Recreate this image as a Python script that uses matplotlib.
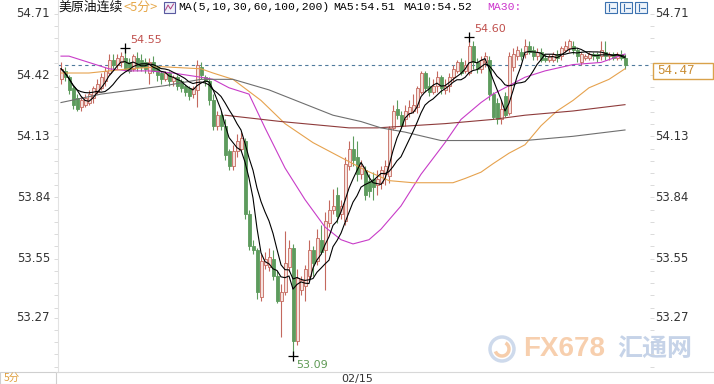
import matplotlib
matplotlib.use('Agg')
import matplotlib.pyplot as plt
from matplotlib.patches import Rectangle, Circle, Arc
from matplotlib.lines import Line2D
from matplotlib.transforms import IdentityTransform, blended_transform_factory
import pandas as pd

W, H = 714, 384

# 5-minute candles, crude oil continuous
opens = [
    54.40, 54.44, 54.41, 54.36, 54.31, 54.27, 54.28, 54.29, 54.31, 54.34,
    54.36, 54.39, 54.43, 54.49, 54.47, 54.48, 54.50, 54.48, 54.45, 54.50,
    54.49, 54.48, 54.43, 54.48, 54.46, 54.43, 54.40, 54.43, 54.39, 54.41,
    54.39, 54.37, 54.36, 54.33, 54.35, 54.46, 54.41, 54.39, 54.30, 54.18,
    54.23, 54.18, 54.06, 53.99, 54.06, 54.07, 54.11, 53.76, 53.61, 53.59,
    53.37, 53.52, 53.51, 53.55, 53.47, 53.35, 53.39, 53.51, 53.60, 53.16,
    53.40, 53.42, 53.47, 53.59, 53.54, 53.64, 53.59, 53.72, 53.78, 53.85,
    53.76, 53.73, 53.99, 54.07, 54.03, 53.95, 53.97, 53.92, 53.93, 53.90,
    53.91, 53.95, 53.94, 54.17, 54.26, 54.23, 54.21, 54.24, 54.25, 54.27,
    54.34, 54.43, 54.37, 54.34, 54.37, 54.41, 54.35, 54.37, 54.41, 54.44,
    54.48, 54.44, 54.43, 54.56, 54.48, 54.45, 54.48, 54.49, 54.33, 54.29,
    54.21, 54.32, 54.24, 54.46, 54.51, 54.53, 54.52, 54.56, 54.54, 54.51,
    54.53, 54.50, 54.49, 54.49, 54.52, 54.51, 54.54, 54.55, 54.56, 54.54,
    54.48, 54.50, 54.50, 54.52, 54.52, 54.51, 54.53, 54.51, 54.52, 54.50,
    54.52, 54.50,
]
closes = [
    54.45, 54.41, 54.35, 54.28, 54.26, 54.30, 54.31, 54.33, 54.36, 54.38,
    54.41, 54.44, 54.49, 54.47, 54.50, 54.51, 54.45, 54.44, 54.51, 54.46,
    54.46, 54.45, 54.48, 54.44, 54.42, 54.40, 54.43, 54.39, 54.41, 54.37,
    54.36, 54.34, 54.32, 54.36, 54.47, 54.42, 54.39, 54.30, 54.18, 54.23,
    54.18, 54.04, 53.99, 54.06, 54.11, 54.12, 53.76, 53.61, 53.59, 53.39,
    53.54, 53.55, 53.56, 53.47, 53.35, 53.39, 53.53, 53.60, 53.16, 53.46,
    53.45, 53.50, 53.59, 53.53, 53.65, 53.58, 53.73, 53.78, 53.80, 53.75,
    53.80, 54.00, 54.07, 54.02, 53.95, 53.99, 53.85, 53.87, 53.89, 53.93,
    53.97, 53.99, 54.17, 54.25, 54.23, 54.18, 54.25, 54.27, 54.28, 54.36,
    54.43, 54.36, 54.34, 54.37, 54.41, 54.36, 54.37, 54.41, 54.45, 54.48,
    54.43, 54.47, 54.56, 54.48, 54.45, 54.49, 54.51, 54.33, 54.22, 54.21,
    54.26, 54.23, 54.51, 54.52, 54.54, 54.51, 54.56, 54.53, 54.51, 54.53,
    54.49, 54.49, 54.51, 54.52, 54.50, 54.55, 54.56, 54.58, 54.54, 54.51,
    54.52, 54.51, 54.52, 54.51, 54.50, 54.54, 54.51, 54.52, 54.50, 54.52,
    54.50, 54.47,
]
highs = [
    54.48, 54.46, 54.42, 54.37, 54.33, 54.32, 54.33, 54.35, 54.37, 54.40,
    54.43, 54.46, 54.52, 54.52, 54.52, 54.53, 54.55, 54.50, 54.52, 54.53,
    54.52, 54.50, 54.50, 54.51, 54.47, 54.44, 54.44, 54.44, 54.42, 54.42,
    54.40, 54.38, 54.37, 54.37, 54.49, 54.48, 54.42, 54.41, 54.33, 54.25,
    54.25, 54.21, 54.07, 54.09, 54.14, 54.15, 54.12, 53.78, 53.64, 53.60,
    53.57, 53.58, 53.60, 53.59, 53.49, 53.43, 53.68, 53.64, 53.62, 53.50,
    53.47, 53.52, 53.64, 53.61, 53.69, 53.71, 53.77, 53.83, 53.88, 53.89,
    53.83, 54.03, 54.11, 54.13, 54.11, 54.02, 53.99, 53.95, 53.96, 53.97,
    53.99, 54.02, 54.18, 54.28, 54.30, 54.25, 54.28, 54.30, 54.33, 54.37,
    54.44, 54.44, 54.41, 54.40, 54.44, 54.42, 54.40, 54.43, 54.47, 54.49,
    54.50, 54.49, 54.60, 54.58, 54.50, 54.51, 54.53, 54.51, 54.34, 54.31,
    54.30, 54.34, 54.53, 54.55, 54.56, 54.55, 54.59, 54.58, 54.56, 54.55,
    54.55, 54.52, 54.52, 54.53, 54.54, 54.56, 54.58, 54.59, 54.58, 54.55,
    54.53, 54.52, 54.53, 54.53, 54.53, 54.58, 54.58, 54.53, 54.53, 54.53,
    54.54, 54.52,
]
lows = [
    54.38, 54.39, 54.33, 54.26, 54.25, 54.25, 54.27, 54.28, 54.29, 54.33,
    54.35, 54.37, 54.42, 54.45, 54.45, 54.46, 54.44, 54.43, 54.44, 54.44,
    54.44, 54.43, 54.38, 54.43, 54.39, 54.38, 54.39, 54.37, 54.37, 54.35,
    54.34, 54.32, 54.30, 54.31, 54.27, 54.40, 54.37, 54.28, 54.16, 54.16,
    54.16, 54.02, 53.97, 53.97, 54.03, 54.06, 53.74, 53.59, 53.57, 53.36,
    53.35, 53.50, 53.49, 53.45, 53.34, 53.18, 53.38, 53.49, 53.09, 53.14,
    53.38, 53.35, 53.45, 53.47, 53.52, 53.57, 53.40, 53.70, 53.76, 53.72,
    53.74, 53.71, 53.97, 53.99, 53.92, 53.93, 53.83, 53.84, 53.83, 53.85,
    53.88, 53.90, 53.91, 54.16, 54.21, 54.17, 54.18, 54.22, 54.24, 54.24,
    54.33, 54.34, 54.32, 54.33, 54.34, 54.33, 54.33, 54.34, 54.39, 54.43,
    54.42, 54.43, 54.42, 54.45, 54.43, 54.43, 54.46, 54.30, 54.21, 54.19,
    54.19, 54.22, 54.23, 54.44, 54.49, 54.49, 54.50, 54.52, 54.49, 54.49,
    54.48, 54.48, 54.48, 54.48, 54.48, 54.49, 54.53, 54.53, 54.52, 54.48,
    54.47, 54.49, 54.49, 54.49, 54.48, 54.49, 54.49, 54.49, 54.49, 54.49,
    54.49, 54.45,
]

# longer moving averages at a few candles
ma30_idx = [0, 2, 7, 12, 17, 22, 28, 35, 38, 42, 47, 51, 56, 61, 66, 70, 73, 77, 80,
            85, 90, 96, 100, 105, 108, 112, 116, 121, 128, 135, 138, 141]
ma30 = [54.51, 54.51, 54.48, 54.45, 54.44, 54.44, 54.43, 54.41, 54.40, 54.36, 54.33,
        54.17, 53.98, 53.83, 53.70, 53.64, 53.62, 53.64, 53.69, 53.80, 53.95, 54.10,
        54.21, 54.29, 54.33, 54.37, 54.41, 54.44, 54.47, 54.48, 54.50, 54.52]
ma60_idx = [0, 7, 17, 25, 35, 38, 43, 50, 56, 63, 70, 76, 82, 88, 98, 101, 105, 108,
            112, 116, 120, 124, 128, 132, 137, 141]
ma60 = [54.43, 54.43, 54.45, 54.46, 54.45, 54.43, 54.40, 54.30, 54.19, 54.10, 54.03,
        53.97, 53.92, 53.91, 53.91, 53.93, 53.96, 54.00, 54.05, 54.09, 54.18, 54.25,
        54.30, 54.36, 54.40, 54.45]
ma100_idx = [41, 55, 72, 79, 96, 108, 116, 128, 141]
ma100 = [54.23, 54.20, 54.17, 54.17, 54.19, 54.21, 54.23, 54.25, 54.28]
ma200_idx = [0, 10, 18, 26, 35, 43, 52, 60, 68, 75, 80, 86, 95, 108, 116, 128, 141]
ma200 = [54.29, 54.33, 54.35, 54.37, 54.40, 54.40, 54.35, 54.29, 54.23, 54.20, 54.17,
         54.15, 54.11, 54.11, 54.11, 54.13, 54.16]

yticks = [54.71, 54.42, 54.13, 53.84, 53.55, 53.27]
date_label = '02/15'
date_idx = 70

UP = '#c4695e'
UP_FILL = '#f6e2de'
DOWN = '#5d9b5d'
NUM_FONT = 'DejaVu Sans'
MONO = ['Liberation Mono', 'DejaVu Sans Mono']
CJK = ['Noto Sans CJK SC', 'DejaVu Sans']


def fx(x):
    return x / W


def fy(y):
    return 1 - y / H


fig = plt.figure(figsize=(W / 100, H / 100), dpi=100)
fig.patch.set_facecolor('white')
ax = fig.add_axes([fx(58), fy(372), fx(650) - fx(58), fy(0) - fy(372)])
ax.set_xlim(-0.75, 147.25)
ax.set_ylim(53.013, 54.776)

n = len(closes)
xs = list(range(n))

# candles
for i in xs:
    o, c, hi, lo = opens[i], closes[i], highs[i], lows[i]
    up = c >= o
    col = UP if up else DOWN
    ax.vlines(i, lo, hi, color=col, lw=0.8, zorder=2)
    body = max(abs(c - o), 0.004)
    ax.bar(i, body, bottom=min(o, c), width=0.75, color=UP_FILL if up else DOWN,
           edgecolor=col, linewidth=0.6, zorder=3)

# moving averages
s = pd.Series(closes)
ma5 = s.rolling(5, min_periods=1).mean()
ma10 = s.rolling(10, min_periods=1).mean()
ax.plot(xs, ma5, color='black', lw=0.8, zorder=5)
ax.plot(xs, ma10, color='black', lw=0.8, zorder=5)
ax.plot(ma30_idx, ma30, color='#c83cc8', lw=0.8, zorder=4)
ax.plot(ma60_idx, ma60, color='#e6a24e', lw=0.8, zorder=4)
ax.plot(ma100_idx, ma100, color='#8e3b3b', lw=0.8, zorder=4)
ax.plot(ma200_idx, ma200, color='#6f6f6f', lw=0.8, zorder=4)

# last price line
last = closes[-1]
ax.axhline(last, color='#4f7a9c', lw=0.8, ls=(0, (3, 3)), zorder=1)

# extreme marks
i_left = max(range(40), key=lambda k: highs[k])
i_top = max(xs, key=lambda k: highs[k])
i_low = min(xs, key=lambda k: lows[k])
for i, v, txt, col, off in [
    (i_left, highs[i_left], f'{highs[i_left]:.2f}', '#c0504d', (5, 8)),
    (i_top, highs[i_top], f'{highs[i_top]:.2f}', '#c0504d', (5, 8)),
    (i_low, lows[i_low], f'{lows[i_low]:.2f}', '#5f9a55', (3, -9)),
]:
    ax.plot(i, v, marker='+', color='black', ms=7, mew=0.9, zorder=6)
    ax.annotate(txt, xy=(i, v), xytext=off, textcoords='offset pixels', ha='left',
                va='center', color=col, fontsize=8, fontfamily=NUM_FONT)

# axes styling
for side in ['top', 'right', 'bottom']:
    ax.spines[side].set_visible(False)
ax.spines['left'].set_color('#e2e2e2')
ax.set_xticks([])
ax.set_yticks([])
minor = [t - 0.058 * j for t in yticks for j in range(0, 5)]
ax.set_yticks(minor, minor=True)
ax.tick_params(axis='y', which='minor', left=True, right=True, length=3, width=0.6,
               color='#d5d5d5', labelleft=False, labelright=False)

tr = blended_transform_factory(ax.transAxes, ax.transData)
for v in yticks:
    ax.text(-0.0135, v, f'{v:.2f}', transform=tr, ha='right', va='center',
            fontsize=8.5, color='#333333', fontfamily=NUM_FONT)
    # the right label next to the last-price tag is hidden by it
    if abs(v - last) > 0.08:
        ax.text(1.0085, v, f'{v:.2f}', transform=tr, ha='left', va='center',
                fontsize=8.5, color='#333333', fontfamily=NUM_FONT)

# date label under the axis
ax.text(date_idx, -0.006, date_label, transform=blended_transform_factory(ax.transData, ax.transAxes),
        ha='left', va='top', fontsize=8, color='#333333', fontfamily=NUM_FONT, clip_on=False)

# bottom frame
fig.add_artist(Line2D([fx(56), 1], [fy(372), fy(372)], color='#d8d8d8', lw=0.8))
fig.add_artist(Rectangle((fx(0), fy(384)), fx(56), fy(372) - fy(384), facecolor='white',
                         edgecolor='#cfcfcf', lw=0.8))
fig.text(fx(4), fy(378), '5分', color='#e0a040', fontsize=7.5, fontfamily=CJK, va='center')

# header
fig.text(fx(58), fy(7), '美原油连续', fontsize=9.3, fontfamily=CJK, va='center', color='#111111')
fig.text(fx(123), fy(7), '<5分>', fontsize=9.3, fontfamily=CJK, va='center', color='#e6a84a')
fig.add_artist(Rectangle((fx(164), fy(13)), fx(11), fy(2) - fy(13), facecolor='#eef0fa',
                         edgecolor='#5a5aa0', lw=0.8))
fig.add_artist(Line2D([fx(165.5), fx(168), fx(170.5), fx(173.5)], [fy(10), fy(5), fy(9), fy(4)],
                      color='#b04080', lw=0.7))
fig.text(fx(178), fy(7.5), 'MA(5,10,30,60,100,200)', fontsize=8.2, fontfamily=MONO, va='center')
fig.text(fx(333), fy(7.5), 'MA5:54.51', fontsize=8.2, fontfamily=MONO, va='center')
fig.text(fx(403), fy(7.5), 'MA10:54.52', fontsize=8.2, fontfamily=MONO, va='center')
fig.text(fx(487), fy(7.5), 'MA30:', fontsize=8.2, fontfamily=MONO, va='center', color='#cc33cc')

# toolbar icons top right
for k, x0 in enumerate([605, 620, 635]):
    fig.add_artist(Rectangle((fx(x0), fy(13)), fx(12), fy(2) - fy(13), facecolor='#eef4fb',
                             edgecolor='#3c72b0', lw=0.8))
    fig.add_artist(Line2D([fx(x0 + 4), fx(x0 + 4)], [fy(4), fy(11)], color='#3c72b0', lw=0.8))
    fig.add_artist(Line2D([fx(x0 + 6), fx(x0 + 10)], [fy(7.5), fy(7.5)], color='#3c72b0', lw=0.8))

# last price tag
fig.add_artist(Rectangle((fx(653), fy(79)), fx(60), fy(63) - fy(79), facecolor='white',
                         edgecolor='#d9a24a', lw=1.0, zorder=5))
fig.text(fx(657), fy(71.5), f'{last:.2f}', fontsize=9, fontfamily=MONO, va='center',
         color='#c88a2e', zorder=6)

# watermark
idt = IdentityTransform()
fig.add_artist(Circle((502, H - 349), 12, transform=idt, facecolor='none',
                      edgecolor='#c9d6ea', lw=2.5, alpha=0.9))
fig.add_artist(Arc((502, H - 349), 14, 14, theta1=200, theta2=420, transform=idt,
                   edgecolor='#f5c8a2', lw=2.5, alpha=0.9))
fig.text(fx(523), fy(349), 'FX678', fontsize=20, fontweight='bold',
         fontfamily=['Liberation Sans', 'DejaVu Sans'], color='#f6c7a0',
         va='center', alpha=0.85)
fig.text(fx(617), fy(349), '汇通网', fontsize=18, fontweight='bold', fontfamily=CJK,
         color='#bccce4', va='center', alpha=0.85)

fig.savefig('out.png', dpi=100, facecolor='white')
